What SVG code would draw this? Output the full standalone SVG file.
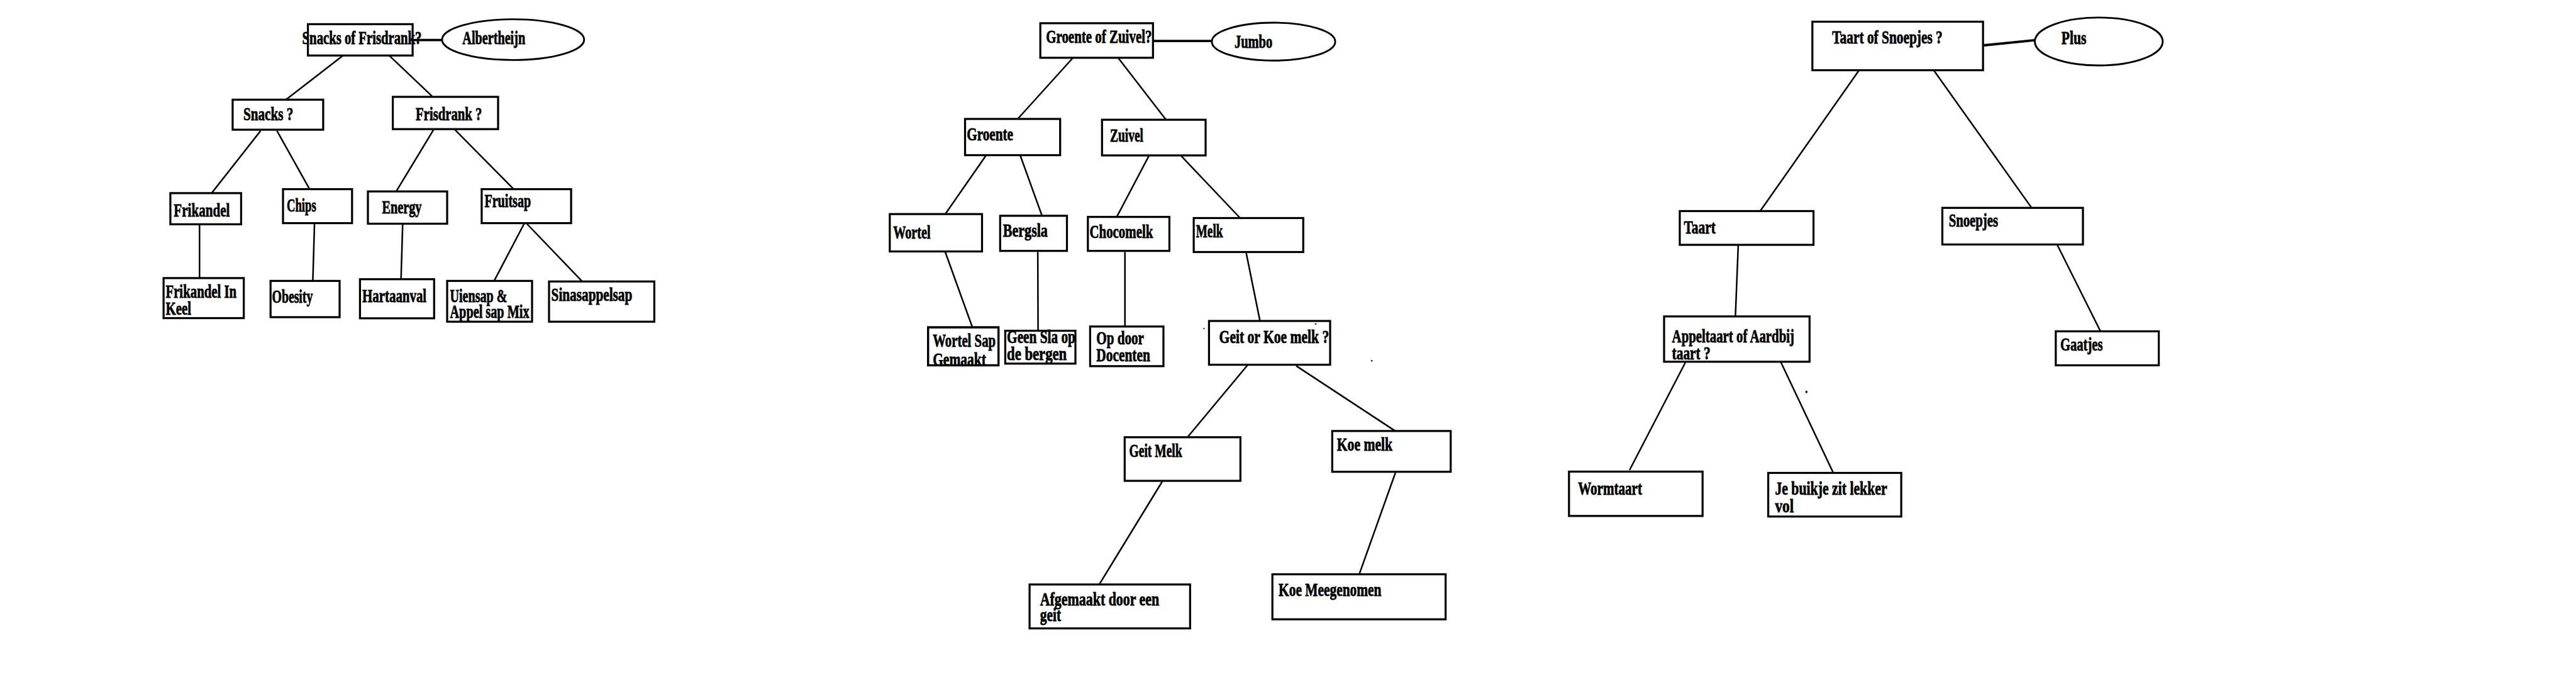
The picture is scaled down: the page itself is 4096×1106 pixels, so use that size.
<svg xmlns="http://www.w3.org/2000/svg" width="4096" height="1106" viewBox="0 0 4096 1106">
<style>
.box{fill:#fff;stroke:#000;stroke-width:3.6}
.ell{fill:#fff;stroke:#000;stroke-width:3.2}
.conn line{stroke:#000;stroke-width:2.8;stroke-linecap:butt}
.conn line.thick{stroke-width:4.2}
text{font-family:"Liberation Serif","DejaVu Serif",serif;font-weight:bold;font-size:33px;fill:#000;stroke:#000;stroke-width:0.9}
</style>
<defs>
<clipPath id="clipWS"><rect x="1639" y="578" width="125" height="66"/></clipPath>
</defs>
<rect x="0" y="0" width="4096" height="1106" fill="#fff"/>
<g transform="scale(0.9)">
<g id="connectors" class="conn">
<line class="thick" x1="729" y1="70.7" x2="781" y2="70.7"/>
<line x1="607.5" y1="97" x2="505.4" y2="175.7"/>
<line x1="686.6" y1="97" x2="764.5" y2="171"/>
<line x1="460.4" y1="231" x2="373.9" y2="341"/>
<line x1="489.3" y1="231" x2="547" y2="334"/>
<line x1="766" y1="229" x2="700" y2="338"/>
<line x1="803.7" y1="229" x2="907.6" y2="334"/>
<line x1="352.5" y1="397.5" x2="352.5" y2="491"/>
<line x1="555.6" y1="395" x2="552.7" y2="496"/>
<line x1="711.4" y1="395.7" x2="708.5" y2="493"/>
<line x1="926" y1="395" x2="873" y2="496"/>
<line x1="930.7" y1="395" x2="1028.8" y2="497"/>
<line class="thick" x1="2037" y1="72.4" x2="2141" y2="72.4"/>
<line x1="1895" y1="102.8" x2="1798" y2="210"/>
<line x1="1976" y1="102.8" x2="2060" y2="211.4"/>
<line x1="1742" y1="274.5" x2="1670" y2="378"/>
<line x1="1802.5" y1="274.5" x2="1841" y2="381"/>
<line x1="2032" y1="271" x2="1973" y2="383"/>
<line x1="2087" y1="275.5" x2="2191" y2="385"/>
<line x1="1670" y1="445" x2="1718" y2="578"/>
<line x1="1833.5" y1="445" x2="1834" y2="584"/>
<line x1="1987.5" y1="445" x2="1987.5" y2="576.5"/>
<line x1="2201" y1="443" x2="2226" y2="566.5"/>
<line x1="2205" y1="643.6" x2="2098" y2="772"/>
<line x1="2290" y1="646" x2="2465" y2="761"/>
<line x1="2053.5" y1="850" x2="1942" y2="1032"/>
<line x1="2465.4" y1="834.5" x2="2401.4" y2="1014"/>
<line class="thick" x1="3505" y1="80" x2="3595" y2="71"/>
<line x1="3284" y1="124.7" x2="3106.6" y2="377.3"/>
<line x1="3414.7" y1="121.7" x2="3591" y2="369.3"/>
<line x1="3071" y1="433" x2="3066" y2="558.7"/>
<line x1="3635" y1="433" x2="3711" y2="585"/>
<line x1="2977.6" y1="640" x2="2879" y2="830"/>
<line x1="3145" y1="636.7" x2="3239" y2="835"/>
</g>
<g id="n-snacks-of-frisdrank"><rect class="box" x="544" y="42.7" width="185" height="55.3"/><text transform="translate(534,78) scale(0.7,1)" x="0" y="0" textLength="301.4" lengthAdjust="spacingAndGlyphs">Snacks of Frisdrank?</text></g>
<g id="n-albertheijn"><ellipse class="ell" cx="906.5" cy="70" rx="125.5" ry="36"/><text x="817" y="77.5" textLength="111" lengthAdjust="spacingAndGlyphs">Albertheijn</text></g>
<g id="n-snacks"><rect class="box" x="411" y="176" width="160" height="53"/><text x="430" y="212.5" textLength="88" lengthAdjust="spacingAndGlyphs">Snacks ?</text></g>
<g id="n-frisdrank"><rect class="box" x="694" y="171" width="186" height="57"/><text x="734.5" y="212.5" textLength="117" lengthAdjust="spacingAndGlyphs">Frisdrank ?</text></g>
<g id="n-frikandel"><rect class="box" x="301" y="341" width="125" height="55"/><text x="307" y="382.5" textLength="99" lengthAdjust="spacingAndGlyphs">Frikandel</text></g>
<g id="n-chips"><rect class="box" x="500" y="334" width="122" height="60"/><text x="506.6" y="373.5" textLength="52" lengthAdjust="spacingAndGlyphs">Chips</text></g>
<g id="n-energy"><rect class="box" x="650" y="338" width="140" height="57"/><text x="675" y="377" textLength="70" lengthAdjust="spacingAndGlyphs">Energy</text></g>
<g id="n-fruitsap"><rect class="box" x="851" y="334" width="158" height="60"/><text x="856" y="365.5" textLength="82" lengthAdjust="spacingAndGlyphs">Fruitsap</text></g>
<g id="n-frikandel-in-keel"><rect class="box" x="289" y="491" width="141.7" height="70.7"/><text x="292.7" y="525.7" textLength="125.3" lengthAdjust="spacingAndGlyphs">Frikandel In</text><text x="292.7" y="556" textLength="45" lengthAdjust="spacingAndGlyphs">Keel</text></g>
<g id="n-obesity"><rect class="box" x="478" y="496" width="122" height="64"/><text x="480.6" y="534.5" textLength="72" lengthAdjust="spacingAndGlyphs">Obesity</text></g>
<g id="n-hartaanval"><rect class="box" x="636" y="493" width="131" height="69"/><text x="640" y="533" textLength="113.5" lengthAdjust="spacingAndGlyphs">Hartaanval</text></g>
<g id="n-uiensap"><rect class="box" x="790" y="496" width="150" height="72"/><text x="795" y="533" textLength="101" lengthAdjust="spacingAndGlyphs">Uiensap &amp;</text><text x="795" y="561.5" textLength="140" lengthAdjust="spacingAndGlyphs">Appel sap Mix</text></g>
<g id="n-sinasappelsap"><rect class="box" x="970" y="497" width="186" height="71"/><text x="974" y="531" textLength="143" lengthAdjust="spacingAndGlyphs">Sinasappelsap</text></g>

<g id="m-groente-of-zuivel"><rect class="box" x="1838" y="41" width="199" height="61"/><text x="1848" y="76" textLength="187" lengthAdjust="spacingAndGlyphs">Groente of Zuivel?</text></g>
<g id="m-jumbo"><ellipse class="ell" cx="2250" cy="73.5" rx="109" ry="33.5"/><text x="2181" y="84" textLength="67" lengthAdjust="spacingAndGlyphs">Jumbo</text></g>
<g id="m-groente"><rect class="box" x="1705" y="210" width="168" height="64"/><text x="1708" y="248" textLength="82" lengthAdjust="spacingAndGlyphs">Groente</text></g>
<g id="m-zuivel"><rect class="box" x="1947" y="211.4" width="183" height="63"/><text x="1961" y="249.5" textLength="59" lengthAdjust="spacingAndGlyphs">Zuivel</text></g>
<g id="m-wortel"><rect class="box" x="1572" y="378" width="163" height="66"/><text x="1578" y="421.5" textLength="66" lengthAdjust="spacingAndGlyphs">Wortel</text></g>
<g id="m-bergsla"><rect class="box" x="1767" y="381" width="118" height="62"/><text x="1772" y="418" textLength="79" lengthAdjust="spacingAndGlyphs">Bergsla</text></g>
<g id="m-chocomelk"><rect class="box" x="1922" y="383" width="144" height="60"/><text x="1925" y="420" textLength="112" lengthAdjust="spacingAndGlyphs">Chocomelk</text></g>
<g id="m-melk"><rect class="box" x="2109" y="385" width="193.5" height="60"/><text x="2113" y="419" textLength="47.5" lengthAdjust="spacingAndGlyphs">Melk</text></g>
<g id="m-wortel-sap"><rect class="box" x="1639.6" y="578" width="124.4" height="67"/><text transform="translate(1648,612.5) scale(0.7,1)" x="0" y="0" textLength="158.6" lengthAdjust="spacingAndGlyphs">Wortel Sap</text><text clip-path="url(#clipWS)" x="1648" y="645" textLength="94" lengthAdjust="spacingAndGlyphs">Gemaakt</text><rect x="1639.6" y="578" width="124.4" height="67" fill="none" stroke="#000" stroke-width="3.6"/></g>
<g id="m-geen-sla"><rect class="box" x="1776" y="584" width="124" height="58"/><text transform="translate(1779,606) scale(0.72,1)" x="0" y="0" textLength="168" lengthAdjust="spacingAndGlyphs">Geen Sla op</text><text x="1779" y="635.5" textLength="105.6" lengthAdjust="spacingAndGlyphs">de bergen</text></g>
<g id="m-op-door"><rect class="box" x="1926" y="576.5" width="129.5" height="70"/><text x="1937" y="607.5" textLength="84" lengthAdjust="spacingAndGlyphs">Op door</text><text x="1937" y="638" textLength="95" lengthAdjust="spacingAndGlyphs">Docenten</text></g>
<g id="m-geit-or-koe"><rect class="box" x="2136" y="566.7" width="214" height="77.3"/><text x="2154" y="606" textLength="194" lengthAdjust="spacingAndGlyphs">Geit or Koe melk ?</text></g>
<g id="m-geit-melk"><rect class="box" x="1987" y="772" width="204.5" height="77"/><text x="1995" y="807" textLength="93.5" lengthAdjust="spacingAndGlyphs">Geit Melk</text></g>
<g id="m-koe-melk"><rect class="box" x="2353.7" y="761" width="209.3" height="72"/><text x="2362" y="796" textLength="98" lengthAdjust="spacingAndGlyphs">Koe melk</text></g>
<g id="m-afgemaakt"><rect class="box" x="1819" y="1032" width="283.6" height="77.5"/><text x="1837.5" y="1068.5" textLength="210.5" lengthAdjust="spacingAndGlyphs">Afgemaakt door een</text><text x="1837.5" y="1097" textLength="37" lengthAdjust="spacingAndGlyphs">geit</text></g>
<g id="m-koe-meegenomen"><rect class="box" x="2248" y="1014" width="306" height="79.5"/><text x="2259" y="1052.5" textLength="181.5" lengthAdjust="spacingAndGlyphs">Koe Meegenomen</text></g>

<g id="r-taart-of-snoepjes"><rect class="box" x="3202" y="38.3" width="301.5" height="85.7"/><text x="3237" y="76.5" textLength="195" lengthAdjust="spacingAndGlyphs">Taart of Snoepjes ?</text></g>
<g id="r-plus"><ellipse class="ell" cx="3708" cy="73.3" rx="113" ry="42.3"/><text x="3642" y="78" textLength="44" lengthAdjust="spacingAndGlyphs">Plus</text></g>
<g id="r-taart"><rect class="box" x="2967.7" y="372.7" width="236.3" height="59.6"/><text x="2975" y="412" textLength="56" lengthAdjust="spacingAndGlyphs">Taart</text></g>
<g id="r-snoepjes"><rect class="box" x="3431.6" y="367" width="248.4" height="64.7"/><text x="3443" y="400.5" textLength="87" lengthAdjust="spacingAndGlyphs">Snoepjes</text></g>
<g id="r-appeltaart"><rect class="box" x="2940" y="558.7" width="257" height="80"/><text x="2954" y="604.5" textLength="216" lengthAdjust="spacingAndGlyphs">Appeltaart of Aardbij</text><text x="2954" y="634.5" textLength="68" lengthAdjust="spacingAndGlyphs">taart ?</text></g>
<g id="r-gaatjes"><rect class="box" x="3632" y="585" width="182" height="60"/><text x="3640" y="618.8" textLength="75" lengthAdjust="spacingAndGlyphs">Gaatjes</text></g>
<g id="r-wormtaart"><rect class="box" x="2772" y="832.7" width="236" height="78.3"/><text x="2788" y="873" textLength="113" lengthAdjust="spacingAndGlyphs">Wormtaart</text></g>
<g id="r-je-buikje"><rect class="box" x="3124" y="835" width="235" height="77"/><text x="3136" y="873.8" textLength="198" lengthAdjust="spacingAndGlyphs">Je buikje zit lekker</text><text x="3136" y="904.5" textLength="33" lengthAdjust="spacingAndGlyphs">vol</text></g>
<rect x="3190" y="690" width="3" height="4" fill="#000"/>
<rect x="2126" y="579" width="2" height="2" fill="#000"/>
<rect x="2323" y="571" width="3" height="2" fill="#000"/>
<rect x="2422" y="636" width="3" height="2" fill="#000"/>
</g>
</svg>
